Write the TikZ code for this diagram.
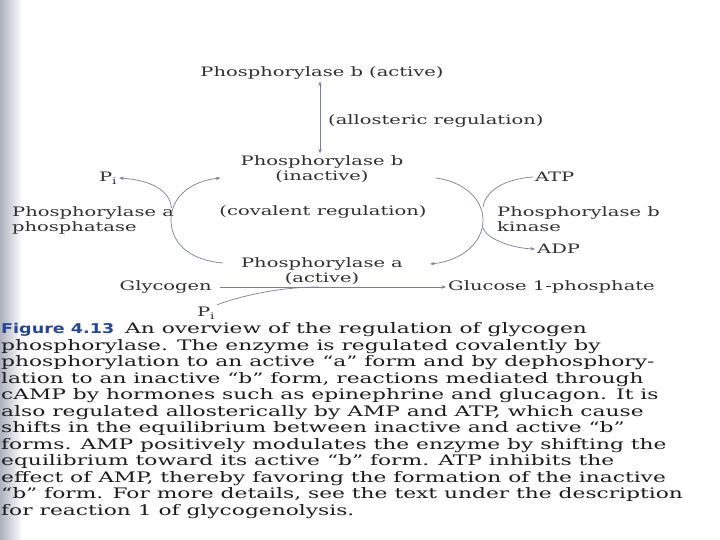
\documentclass[tikz,border=0pt]{standalone}
\usepackage{fontspec}
\setmainfont[FakeStretch=1.5]{DejaVu Serif}
\newfontfamily\figsans[FakeStretch=1.3]{DejaVu Sans}
\usetikzlibrary{arrows.meta,calc}
\definecolor{arrowgray}{RGB}{122,128,146}
\definecolor{textgray}{RGB}{48,48,48}
\definecolor{captext}{RGB}{28,28,28}
\definecolor{figblue}{RGB}{40,70,150}
\definecolor{bandgray}{RGB}{172,177,190}

\begin{document}
\begin{tikzpicture}[x=1pt,y=-1pt,
  lbl/.style={text=textgray, font=\fontsize{13}{15}\selectfont, inner sep=2pt},
  flow/.style={draw=arrowgray, line width=0.7pt, -{Stealth[length=4.5pt,width=3.5pt]}},
  link/.style={draw=arrowgray, line width=0.7pt}]
\useasboundingbox (0,0) rectangle (720,540);
\fill[white] (0,0) rectangle (720,540);
\shade[left color=bandgray, right color=white] (0,0) rectangle (22,540);
% labels of the scheme
\node[lbl] (pbact) at (322,73) {Phosphorylase b (active)};
\node[lbl, anchor=west] (allo) at (326,121) {(allosteric regulation)};
\node[lbl, align=center] (pbin) at (322,169) {Phosphorylase b\\(inactive)};
\node[lbl] (coval) at (323,212) {(covalent regulation)};
\node[lbl, align=center] (pa) at (322,271) {Phosphorylase a\\(active)};
\node[lbl, anchor=east] (glyc) at (214,287) {Glycogen};
\node[lbl, anchor=west] (g1p) at (446,287) {Glucose 1-phosphate};
\node[lbl] (pibot) at (206,313) {P\textsubscript{i}};
\node[lbl] (pileft) at (108,178) {P\textsubscript{i}};
\node[lbl, anchor=west, align=left] (phos) at (10,220) {Phosphorylase a\\phosphatase};
\node[lbl, anchor=west] (atp) at (533,177) {ATP};
\node[lbl, anchor=west, align=left] (kin) at (495,219) {Phosphorylase b\\kinase};
\node[lbl, anchor=west] (adp) at (535,249) {ADP};
% allosteric step
\draw[link, {Stealth[length=4.5pt,width=3.5pt]}-{Stealth[length=4.5pt,width=3.5pt]}] ([xshift=-2pt]pbact.south) -- ([xshift=-2pt]pbin.north);
% covalent cycle
\coordinate (ljoin) at (171.5,208);
\coordinate (rjoin) at (483,207);
\coordinate (rsplit) at (483,228);
\draw[flow] ($(pa.west)+(-16,-8)$) .. controls (188,260) and (171,242) .. (171,220) .. controls (171,196) and (192,181) .. ($(pbin.west)+(-18,9)$);
\draw[flow] (ljoin) .. controls (170,190) and (150,180) .. (pileft.east);
\draw[flow] ($(pbin.east)+(30,9)$) .. controls (462,181) and (483,198) .. (483,220) .. controls (483,244) and (460,261) .. ($(pa.east)+(25,-7)$);
\draw[link] (atp.west) .. controls (505,179) and (486,190) .. (rjoin);
\draw[flow] (rsplit) .. controls (486,238) and (510,248) .. (adp.west);
% glycogen breakdown
\coordinate (bjoin) at ($(glyc.east)!0.45!(g1p.west)$);
\draw[flow] ([xshift=6pt]glyc.east) -- (g1p.west);
\draw[link] (pibot.north east) .. controls (240,296) and (280,287) .. (bjoin);
% caption
\node[anchor=north west, inner sep=0pt, align=left, text=captext, font=\fontsize{14.5}{16.5}\selectfont] (cap) at (1,322.5)
  {{\figsans\bfseries\fontsize{13.5}{16.5}\selectfont\color{figblue}Figure 4.13}\hspace{11pt}An overview of the regulation of glycogen\\
   phosphorylase. The enzyme is regulated covalently by\\
   phosphorylation to an active “a” form and by dephosphory-\\
   lation to an inactive “b” form, reactions mediated through\\
   cAMP by hormones such as epinephrine and glucagon. It is\\
   also regulated allosterically by AMP and ATP, which cause\\
   shifts in the equilibrium between inactive and active “b”\\
   forms. AMP positively modulates the enzyme by shifting the\\
   equilibrium toward its active “b” form. ATP inhibits the\\
   effect of AMP, thereby favoring the formation of the inactive\\
   “b” form. For more details, see the text under the description\\
   for reaction 1 of glycogenolysis.};
\end{tikzpicture}
\end{document}
